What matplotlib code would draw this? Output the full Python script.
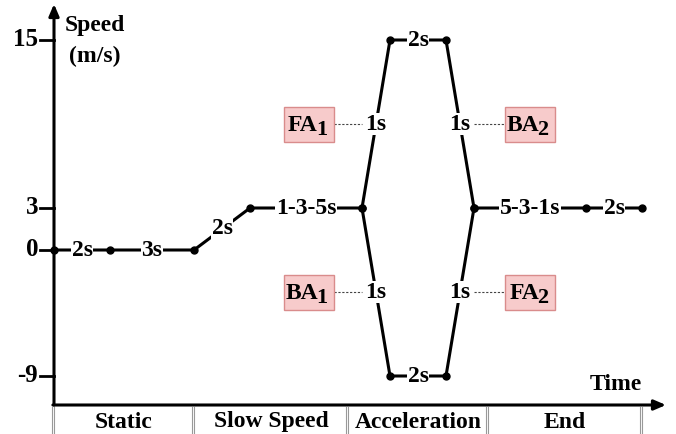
import matplotlib.pyplot as plt
from matplotlib.patches import Rectangle

plt.rcParams['font.family'] = 'Liberation Serif'
plt.rcParams['font.weight'] = 'bold'

# schematic time positions of the nodes and the speed at each node
upper_t = [0, 2, 5, 7, 11, 12, 14, 15, 19, 21]
upper_v = [0, 0, 0, 3, 3, 15, 15, 3, 3, 3]
lower_t = [11, 12, 14, 15]
lower_v = [3, -9, -9, 3]

# duration labels sitting on the line
seg_labels = ['2s', '3s', '2s', '1-3-5s', '1s', '2s', '1s', '5-3-1s', '2s']
low_labels = ['1s', '2s', '1s']

# direction boxes beside the 1s ramps
box_names = ['FA', 'BA', 'BA', 'FA']
box_subs = ['1', '2', '1', '2']
box_t = [9.1, 17.0, 9.1, 17.0]
box_v = [9, 9, -3, -3]
box_link = [11.5, 14.5, 11.5, 14.5]

yticks = [15, 3, 0, -9]
phases = ['Static', 'Slow Speed', 'Acceleration', 'End']
phase_edges = [0, 5, 10.5, 15.5, 21]


def px(x):
    return (x - 54) / 28


def py(y):
    return (250 - y) / 14


fig = plt.figure(figsize=(6.76, 4.34), dpi=100)
ax = fig.add_axes([0, 0, 1, 1])
ax.set_xlim(px(0), px(676))
ax.set_ylim(py(434), py(0))
ax.axis('off')

ux = 1 / 28   # one pixel in x units
uy = 1 / 14   # one pixel in y units
x_axis_y = py(405)

# axes with arrows
arrow = dict(arrowstyle='-|>,head_length=0.7,head_width=0.3', lw=2.2, color='black',
             shrinkA=0, shrinkB=0)
ax.annotate('', xy=(0, py(4)), xytext=(0, x_axis_y), arrowprops=arrow)
ax.annotate('', xy=(px(666), x_axis_y), xytext=(-0.04, x_axis_y), arrowprops=arrow)

for v in yticks:
    ax.plot([px(40), 0], [v, v], color='black', lw=2)
    ax.text(px(38), v, str(v), ha='right', va='center', fontsize=18)

ax.text(px(95), py(25), 'Speed', ha='center', va='center', fontsize=17)
ax.text(px(95), py(56), '(m/s)', ha='center', va='center', fontsize=17)
ax.text(px(616), py(385), 'Time', ha='center', va='center', fontsize=17)

# speed profile
ax.plot(upper_t, upper_v, color='black', lw=2.2, marker='o', markersize=5, zorder=2)
ax.plot(lower_t, lower_v, color='black', lw=2.2, marker='o', markersize=5, zorder=2)

box_style = dict(facecolor='white', edgecolor='none', pad=0.3)
for i, lab in enumerate(seg_labels):
    tx = (upper_t[i] + upper_t[i + 1]) / 2
    ty = (upper_v[i] + upper_v[i + 1]) / 2
    ax.text(tx, ty, lab, ha='center', va='center', fontsize=17, bbox=box_style, zorder=3)
for i, lab in enumerate(low_labels):
    tx = (lower_t[i] + lower_t[i + 1]) / 2
    ty = (lower_v[i] + lower_v[i + 1]) / 2
    ax.text(tx, ty, lab, ha='center', va='center', fontsize=17, bbox=box_style, zorder=3)

# pink boxes with dotted leaders
bw, bh = 50 * ux, 35 * uy
for name, sub, bx, by, lx in zip(box_names, box_subs, box_t, box_v, box_link):
    ax.add_patch(Rectangle((bx - bw / 2, by - bh / 2), bw, bh, facecolor='#f7cbcb',
                           edgecolor='#d98c8c', lw=1, zorder=3))
    ax.text(bx + 9 * ux, by - 7 * uy, name, ha='right', va='baseline', fontsize=17, zorder=4)
    ax.text(bx + 7.5 * ux, by - 11 * uy, sub, ha='left', va='baseline', fontsize=16, zorder=4)
    if lx > bx:
        ax.plot([bx + bw / 2, lx - 14 * ux], [by, by], color='#444444', lw=0.8, ls=(0, (2, 1.5)), zorder=1)
    else:
        ax.plot([lx + 14 * ux, bx - bw / 2], [by, by], color='#444444', lw=0.8, ls=(0, (2, 1.5)), zorder=1)

# phase separators and names
for e in phase_edges:
    for d in (-2.2, 0.2):
        ax.plot([e + d * ux, e + d * ux], [x_axis_y - 2 * uy, py(434)], color='#999999', lw=0.8)
for i, name in enumerate(phases):
    ax.text((phase_edges[i] + phase_edges[i + 1]) / 2, py(422), name,
            ha='center', va='center', fontsize=17)

fig.savefig('out.png', dpi=100)
